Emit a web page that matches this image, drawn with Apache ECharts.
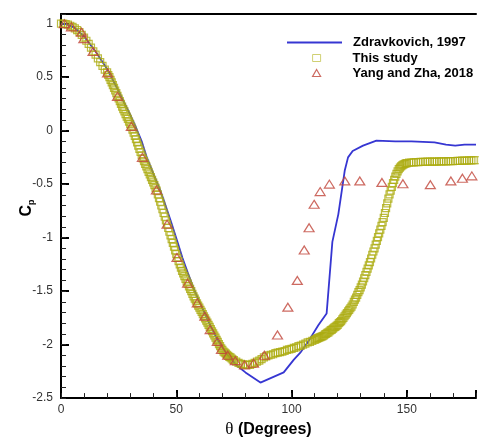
<!DOCTYPE html>
<html>
<head>
<meta charset="utf-8">
<script src="https://cdn.jsdelivr.net/npm/echarts@6/dist/echarts.min.js"></script>
<style>html,body{margin:0;padding:0;background:#fff;}#c{width:479px;height:443px;}</style>
</head>
<body>
<div id="c"></div>
<script>
// Zdravkovich, 1997 (line)
const zdTheta = [0,3,6,10,15,20,25,30,32.3,35,37.2,40,43.1,45.5,48,50.5,52.7,55,58,61.3,65,68,72,76,80,86.5,96.6,101,104,107.3,111.6,115.2,117.7,120.3,123.1,124.5,126.5,131,136.8,145,152,162,167,171,175,180];
const zdCp = [1.0,0.99,0.96,0.88,0.74,0.575,0.37,0.15,0.04,-0.1,-0.25,-0.40,-0.56,-0.71,-0.87,-1.04,-1.19,-1.33,-1.50,-1.66,-1.83,-1.96,-2.09,-2.19,-2.26,-2.355,-2.26,-2.14,-2.07,-1.97,-1.82,-1.71,-1.04,-0.78,-0.37,-0.25,-0.19,-0.14,-0.094,-0.10,-0.10,-0.11,-0.13,-0.14,-0.13,-0.13];

// This study (squares)
const studyTheta = [
0,1,2,3,4,5,6,7,8,9,10,11,12,13,14,15,16,17,18,19,20,
20.5,21,21.5,22,22.5,23,23.5,24,24.5,25,
25.5,26,26.5,27,27.5,28,28.5,29,29.5,30,
30.5,31,31.5,32,32.5,33,33.5,34,34.5,35,
35.5,36,36.5,37,37.5,38,38.5,39,39.5,40,
40.5,41,41.5,42,42.5,43,43.5,44,44.5,45,
45.5,46,46.5,47,47.5,48,48.5,49,49.5,50,
50.5,51,51.5,52,52.5,53,53.5,54,54.5,55,
55.5,56,56.5,57,57.5,58,58.5,59,59.5,60,
60.5,61,61.5,62,62.5,63,63.5,64,64.5,65,
65.5,66,66.5,67,67.5,68,68.5,69,69.5,70,
70.5,71,71.5,72,72.5,73,73.5,74,74.5,75,
76,77,78,79,80,81,82,83,84,85,
86,87,88,89,90,91,92,93,94,95,
96,97,98,99,100,101,102,103,104,105,
106,107,108,109,110,
110.5,111,111.5,112,112.5,113,113.5,114,114.5,115,
115.5,116,116.5,117,117.5,118,118.5,119,119.5,120,
120.5,121,121.5,122,122.5,123,123.5,124,124.5,125,
125.5,126,126.5,127,127.5,128,128.5,129,129.5,130,
130.5,131,131.5,132,132.5,133,133.5,134,134.5,135,
135.5,136,136.5,137,137.5,138,138.5,139,139.5,140,
140.5,141,141.5,142,142.5,143,143.5,144,144.5,145,
145.5,146,146.5,147,147.5,148,148.5,149,149.5,150,
151,152,153,154,155,156,157,158,159,160,
161,162,163,164,165,166,167,168,169,170,
171,172,173,174,175,176,177,178,179,180];
const studyCp = [
1.00,1.00,0.995,0.99,0.98,0.97,0.955,0.94,0.92,0.895,0.87,0.84,0.81,0.775,0.74,0.71,0.675,0.64,0.605,0.57,0.545,
0.52,0.50,0.475,0.45,0.425,0.40,0.375,0.35,0.325,0.30,
0.275,0.25,0.225,0.20,0.18,0.155,0.13,0.11,0.085,0.06,
0.035,0.01,-0.02,-0.05,-0.08,-0.11,-0.14,-0.17,-0.20,-0.23,
-0.26,-0.285,-0.31,-0.335,-0.36,-0.385,-0.41,-0.435,-0.46,-0.485,
-0.51,-0.535,-0.56,-0.595,-0.63,-0.665,-0.70,-0.735,-0.77,-0.805,
-0.84,-0.875,-0.91,-0.945,-0.98,-1.015,-1.05,-1.085,-1.12,-1.155,
-1.19,-1.22,-1.25,-1.28,-1.31,-1.335,-1.36,-1.385,-1.41,-1.43,
-1.455,-1.48,-1.50,-1.525,-1.55,-1.57,-1.59,-1.615,-1.635,-1.655,
-1.675,-1.695,-1.715,-1.735,-1.755,-1.775,-1.795,-1.815,-1.835,-1.855,
-1.875,-1.895,-1.915,-1.935,-1.955,-1.975,-1.995,-2.015,-2.035,-2.05,
-2.065,-2.075,-2.085,-2.095,-2.105,-2.115,-2.12,-2.13,-2.14,-2.145,
-2.16,-2.17,-2.18,-2.185,-2.19,-2.19,-2.19,-2.18,-2.17,-2.16,
-2.15,-2.135,-2.12,-2.11,-2.10,-2.095,-2.09,-2.08,-2.075,-2.07,
-2.065,-2.06,-2.05,-2.045,-2.04,-2.03,-2.025,-2.015,-2.01,-2.00,
-1.99,-1.98,-1.975,-1.965,-1.955,
-1.95,-1.945,-1.94,-1.935,-1.93,-1.925,-1.92,-1.915,-1.905,-1.90,
-1.89,-1.885,-1.875,-1.865,-1.86,-1.85,-1.84,-1.835,-1.825,-1.815,
-1.80,-1.79,-1.78,-1.765,-1.75,-1.735,-1.72,-1.705,-1.69,-1.675,
-1.66,-1.645,-1.625,-1.60,-1.58,-1.56,-1.535,-1.51,-1.49,-1.465,
-1.44,-1.41,-1.38,-1.35,-1.32,-1.29,-1.26,-1.23,-1.195,-1.16,
-1.13,-1.10,-1.065,-1.03,-0.995,-0.96,-0.925,-0.89,-0.855,-0.815,
-0.77,-0.725,-0.68,-0.635,-0.595,-0.56,-0.525,-0.49,-0.46,-0.43,
-0.405,-0.38,-0.36,-0.345,-0.335,-0.325,-0.318,-0.312,-0.307,-0.303,
-0.30,-0.298,-0.296,-0.295,-0.294,-0.293,-0.292,-0.291,-0.29,-0.29,
-0.29,-0.289,-0.289,-0.288,-0.288,-0.287,-0.287,-0.286,-0.285,-0.285,
-0.284,-0.283,-0.282,-0.281,-0.28,-0.28,-0.279,-0.278,-0.277,-0.277];

// Yang and Zha, 2018 (triangles)
const yzTheta = [1.5,4.5,8.9,9.9,13.9,20.2,24.5,30.5,35.3,41.4,46,50.3,54.9,59.1,62.4,64.7,67.8,69.6,72.3,75.6,79.6,83.5,88.2,93.9,98.4,102.5,105.5,107.6,109.8,112.4,116.4,123.1,129.6,139.2,148.3,160.2,169.1,174.1,178.2];
const yzCp = [1.0,0.97,0.92,0.86,0.74,0.54,0.32,0.04,-0.25,-0.555,-0.875,-1.186,-1.426,-1.61,-1.734,-1.86,-1.97,-2.045,-2.10,-2.15,-2.19,-2.175,-2.10,-1.91,-1.65,-1.40,-1.115,-0.908,-0.689,-0.57,-0.50,-0.47,-0.47,-0.484,-0.496,-0.505,-0.47,-0.445,-0.423];

const xMajorTicks = [0, 50, 100, 150];
const yMajorTicks = [-2.5, -2, -1.5, -1, -0.5, 0, 0.5, 1];

const zip = (a, b) => a.map((v, i) => [v, b[i]]);
const FONT = 'Liberation Sans';
const BLUE = '#3636d2';
const OLIVE = '#abab10';
const RED = '#c0453a';

const chart = echarts.init(document.getElementById('c'), null, {renderer: 'canvas'});
const xBase = {type: 'value', min: 0, max: 180, gridIndex: 0};
const yBase = {type: 'value', min: -2.5, max: 1.09, gridIndex: 0};
const legendText = {fontFamily: FONT, fontWeight: 'bold', fontSize: 13, color: '#000', lineHeight: 15};

chart.setOption({
  animation: false,
  backgroundColor: '#fff',
  grid: {left: 61, right: 0, top: 14, bottom: 37},
  xAxis: [
    Object.assign({}, xBase, {
      position: 'bottom', interval: 50,
      name: '{t|θ} (Degrees)', nameLocation: 'middle', nameGap: 13,
      nameTextStyle: {fontFamily: FONT, fontSize: 16, fontWeight: 'bold', color: '#000',
        rich: {t: {fontFamily: 'Liberation Serif', fontSize: 17, fontWeight: 'normal', color: '#000'}}},
      axisLine: {show: true, onZero: false, lineStyle: {color: '#000', width: 2}},
      axisTick: {show: true, inside: true, length: 8, lineStyle: {color: '#000', width: 2}},
      splitLine: {show: false},
      axisLabel: {margin: 6, fontFamily: FONT, fontSize: 12, color: '#333',
        formatter: v => xMajorTicks.indexOf(v) >= 0 ? String(v) : ''}
    }),
    Object.assign({}, xBase, {
      position: 'bottom', interval: 10,
      axisLine: {show: false, onZero: false}, axisLabel: {show: false}, splitLine: {show: false},
      axisTick: {show: true, inside: true, length: 5, lineStyle: {color: '#222', width: 1}}
    }),
    Object.assign({}, xBase, {
      position: 'top',
      axisLine: {show: true, onZero: false, lineStyle: {color: '#000', width: 2}},
      axisTick: {show: false}, axisLabel: {show: false}, splitLine: {show: false}
    })
  ],
  yAxis: [
    Object.assign({}, yBase, {
      position: 'left', interval: 0.5,
      axisLine: {show: true, onZero: false, lineStyle: {color: '#000', width: 2}},
      axisTick: {show: true, inside: true, length: 8, lineStyle: {color: '#000', width: 2}},
      splitLine: {show: false},
      axisLabel: {margin: 8, fontFamily: FONT, fontSize: 12, color: '#333',
        formatter: v => yMajorTicks.some(t => Math.abs(t - v) < 1e-6) ? String(v) : ''}
    }),
    Object.assign({}, yBase, {
      position: 'left', interval: 0.1,
      axisLine: {show: false, onZero: false}, axisLabel: {show: false}, splitLine: {show: false},
      axisTick: {show: true, inside: true, length: 5, lineStyle: {color: '#222', width: 1}}
    })
  ],
  legend: [
    {
      left: 287, top: 35, padding: 0, orient: 'vertical',
      itemWidth: 55, itemHeight: 7, itemGap: 0,
      textStyle: Object.assign({padding: [0, 0, 0, 6]}, legendText),
      data: [{name: 'Zdravkovich, 1997', icon: 'path://M0,0L55,0L55,2L0,2Z'}]
    },
    {
      left: 312, top: 50.5, padding: 0, orient: 'vertical',
      itemWidth: 8, itemHeight: 7, itemGap: 0,
      textStyle: Object.assign({padding: [0, 0, 0, 27]}, legendText),
      data: [
        {name: 'This study', itemStyle: {color: 'rgba(0,0,0,0)', borderColor: '#c4c450', borderWidth: 1}},
        {name: 'Yang and Zha, 2018', itemStyle: {color: 'rgba(0,0,0,0)', borderColor: RED, borderWidth: 1.2}}
      ]
    }
  ],
  graphic: [{
    type: 'text', x: 27, y: 208, rotation: Math.PI / 2,
    style: {
      text: '{c|C}{p|p}', align: 'center', verticalAlign: 'middle',
      rich: {
        c: {fontFamily: FONT, fontSize: 16, fontWeight: 'bold', fill: '#000', lineHeight: 18},
        p: {fontFamily: FONT, fontSize: 9, fontWeight: 'bold', fill: '#000', lineHeight: 9, verticalAlign: 'bottom'}
      }
    }
  }],
  series: [
    {
      name: 'Zdravkovich, 1997', type: 'line', xAxisIndex: 0, yAxisIndex: 0,
      data: zip(zdTheta, zdCp), symbol: 'none', z: 2,
      lineStyle: {color: BLUE, width: 1.8}, itemStyle: {color: BLUE}
    },
    {
      name: 'This study', type: 'scatter', xAxisIndex: 0, yAxisIndex: 0,
      data: zip(studyTheta, studyCp), symbol: 'rect', symbolSize: 7, z: 3,
      itemStyle: {color: 'rgba(0,0,0,0)', borderColor: OLIVE, borderWidth: 1.2}
    },
    {
      name: 'Yang and Zha, 2018', type: 'scatter', xAxisIndex: 0, yAxisIndex: 0,
      data: zip(yzTheta, yzCp), symbol: 'triangle', symbolSize: [10, 8], z: 4,
      itemStyle: {color: 'rgba(0,0,0,0)', borderColor: RED, borderWidth: 1.2}
    }
  ]
});
</script>
</body>
</html>
